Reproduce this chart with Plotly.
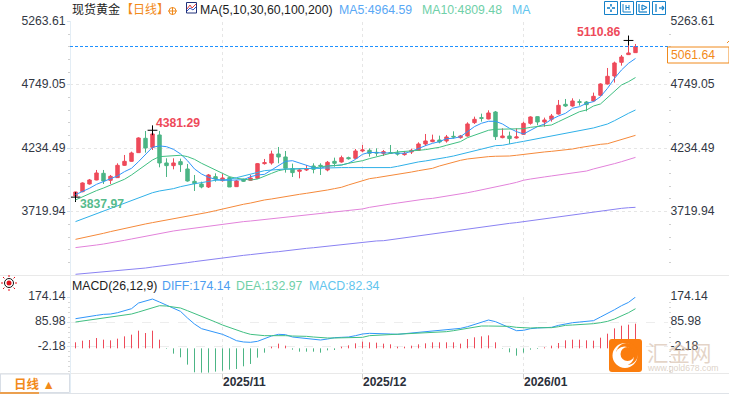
import pandas as pd
import plotly.graph_objects as go

# ---------- data ----------
dates = [d.strftime("%Y-%m-%d") for d in pd.bdate_range("2025-10-03", "2026-01-27") if d.strftime("%m-%d") != "12-25"]

opens = [3847.3,3882.5,3944.8,3977.3,4031.4,3974.6,3996.2,4096.4,4128.9,4199.3,4315.8,4242.6,4342.9,4115.4,4093.7,4126.2,4066.6,3966.4,3944.8,3920.4,4004.4,3971.9,3996.2,3923.1,3982.7,3974.6,3990.8,4110,4115.4,4188.5,4164.1,4069.4,4047.7,4058.5,4091,4096.4,4058.5,4128.9,4123.5,4158.7,4153.3,4212.9,4218.3,4202,4193.9,4199.3,4196.6,4183.1,4204.8,4218.3,4269.7,4288.7,4302.2,4294.1,4332,4321.2,4334.7,4443.1,4483.7,4472.8,4529.7,4321.2,4334.7,4318.5,4348.3,4437.6,4491.8,4448.5,4470.1,4513.5,4592,4578.5,4613.7,4611,4619.1,4665.1,4757.2,4822.2,4933.2,4995.5,5011.7]
highs = [3882.5,3958.3,3985.4,4058.5,4058.5,4017.9,4112.7,4180.4,4207.5,4323.9,4375.4,4381.29,4375.4,4153.3,4153.3,4150.6,4107.3,4017.9,3963.7,4026,4031.4,4026,4004.4,3977.3,3988.1,4017.9,4115.4,4147.9,4215.6,4245.4,4212.9,4110,4072.1,4099.1,4112.7,4112.7,4131.6,4158.7,4175,4166.8,4229.1,4261.6,4234.5,4234.5,4221,4261.6,4221,4212.9,4231.8,4283.3,4351,4345.6,4337.4,4342.9,4372.7,4342.9,4445.8,4491.8,4516.2,4543.3,4537.8,4397,4369.9,4397,4451.2,4494.5,4494.5,4483.7,4513.5,4627.2,4635.3,4640.7,4632.6,4619.1,4686.8,4762.6,4887.2,4938.6,4992.8,5110.86,5082.1]
lows = [3837.97,3877.1,3939.4,3974.6,3944.8,3944.8,3993.5,4091,4126.2,4196.6,4199.3,4221,4080.2,4001.6,4063.9,4042.3,3963.7,3887.9,3909.6,3912.3,3963.7,3963.7,3920.4,3920.4,3961,3969.2,3985.4,4101.8,4101.8,4112.7,4036.9,4001.6,3990.8,4050.4,4031.4,4017.9,4047.7,4085.6,4118.1,4142.5,4147.9,4202,4166.8,4172.2,4172.2,4188.5,4175,4175,4188.5,4212.9,4253.5,4283.3,4275.2,4280.6,4313.1,4313.1,4329.3,4432.2,4451.2,4470.1,4302.2,4315.8,4269.7,4313.1,4342.9,4426.8,4421.4,4410.6,4451.2,4508.1,4570.3,4573,4581.2,4535.1,4613.7,4659.7,4751.8,4768.4,4906.1,4995.5,5009]
closes = [3879.8,3952.9,3977.3,4034.1,3969.2,4007.1,4096.4,4128.9,4196.6,4318.5,4237.2,4351,4115.4,4093.7,4115.4,4101.8,3969.2,3947.5,3920.4,4017.9,3985.4,3993.5,3920.4,3969.2,3966.4,3993.5,4110,4118.1,4188.5,4164.1,4072.1,4036.9,4058.5,4063.9,4063.9,4091,4120.8,4112.7,4158.7,4150.6,4212.9,4221,4193.9,4196.6,4207.5,4193.9,4188.5,4193.9,4218.3,4269.7,4294.1,4302.2,4286,4326.6,4326.6,4334.7,4432.2,4470.1,4478.3,4521.6,4329.3,4334.7,4313.1,4326.6,4437.6,4489.1,4448.5,4464.7,4497.2,4583.9,4578.5,4619.1,4608.2,4589.3,4657,4757.2,4819.5,4927.8,4976.5,5009,5061.64]

ma5 = [3858,3882,3910,3942,3964,3983,4010,4045,4072,4126,4186,4243,4254,4248,4226,4189,4134,4067,4026,3999,3983,3975,3975,3975,3980,4004,4018,4023,4058,4094,4129,4134,4115,4094,4078,4072,4091,4094,4099,4113,4145,4186,4202,4199,4199,4199,4197,4194,4210,4234,4256,4275,4289,4313,4316,4329,4370,4411,4438,4454,4454,4432,4397,4370,4351,4383,4411,4432,4470,4497,4519,4560,4573,4600,4614,4654,4722,4803,4871,4925,4964.59]
ma10 = [3815,3842,3864,3891,3912,3934,3956,3983,4018,4058,4099,4140,4167,4172,4178,4178,4167,4145,4113,4086,4058,4031,4004,3991,3983,3977,3985,4010,4031,4053,4064,4067,4067,4072,4072,4086,4091,4096,4099,4113,4121,4134,4151,4167,4178,4194,4205,4208,4216,4218,4224,4232,4243,4259,4272,4289,4321,4340,4365,4381,4389,4389,4392,4392,4394,4405,4413,4416,4424,4451,4478,4505,4532,4546,4578,4595,4649,4703,4749,4776,4809.48]
ma30 = [3639,3660,3682,3704,3725,3747,3769,3790,3812,3834,3855,3874,3888,3896,3907,3923,3937,3947,3956,3966,3975,3977,3983,3996,4010,4023,4037,4053,4058,4064,4067,4067,4069,4072,4075,4078,4078,4078,4078,4078,4078,4072,4072,4075,4075,4078,4088,4102,4115,4124,4132,4140,4151,4161,4172,4186,4199,4213,4226,4243,4256,4259,4267,4281,4291,4302,4310,4321,4335,4343,4351,4362,4373,4389,4400,4416,4432,4459,4492,4519,4546]
ma60 = [3495,3506,3517,3530,3544,3558,3571,3585,3595,3606,3620,3631,3641,3652,3663,3674,3685,3693,3704,3715,3728,3742,3755,3766,3780,3790,3804,3815,3823,3834,3842,3853,3861,3869,3877,3888,3896,3907,3918,3937,3956,3975,3988,3996,4004,4015,4026,4034,4042,4053,4064,4072,4091,4107,4124,4137,4148,4156,4164,4167,4170,4170,4172,4178,4186,4194,4199,4205,4210,4216,4221,4229,4240,4251,4259,4267,4272,4289,4308,4324,4340]
ma100 = [3428,3433,3441,3449,3457,3465,3476,3487,3498,3509,3522,3536,3547,3555,3563,3571,3579,3587,3595,3604,3612,3620,3625,3633,3639,3644,3650,3658,3663,3671,3677,3682,3690,3696,3701,3706,3712,3720,3725,3731,3736,3742,3755,3766,3774,3782,3790,3799,3807,3815,3823,3828,3836,3847,3855,3866,3874,3885,3896,3910,3923,3934,3945,3958,3975,3985,3996,4002,4010,4018,4023,4031,4040,4050,4067,4080,4094,4110,4126,4142,4161]
ma200 = [3211,3216,3222,3224,3230,3233,3238,3243,3249,3254,3262,3270,3276,3284,3292,3298,3306,3314,3322,3330,3338,3346,3354,3360,3365,3371,3379,3384,3390,3395,3403,3411,3417,3422,3427,3433,3438,3446,3455,3460,3465,3471,3476,3482,3484,3492,3501,3509,3514,3522,3530,3539,3547,3555,3563,3571,3579,3587,3598,3606,3614,3620,3625,3631,3639,3647,3655,3660,3669,3677,3685,3690,3698,3706,3715,3723,3731,3739,3747,3752,3755]

diff = [97.7,102.4,106,109.5,113,114.2,118.9,124.8,133,153,161.2,167.1,156.5,145.9,135.4,123.6,100.1,78.9,62.5,56.6,50.7,42.5,31.9,20.1,15.5,14.3,17.8,27.2,36.6,42.5,41.3,33.1,30.7,28.4,24.9,22.5,26,30.7,31.9,33.1,37.8,43.7,46,46,44.8,43.7,42.5,44.8,49.5,50.7,53.1,54.2,56.6,60.1,61.3,63.6,69.5,77.8,86,93,87.2,76.6,64.8,55.4,56.6,62.5,64.8,66,67.2,74.2,80.1,83.6,86,88.3,90.7,103.6,115.4,129.5,143.6,155.3,174.14]
dea = [86,89.5,93,96.6,98.9,101.3,104.8,109.5,114.2,121.2,129.5,137.7,143.6,142.4,138.9,135.4,125.9,116.5,106,96.6,86,75.4,66,57.8,49.5,42.5,39,37.8,37.8,39,37.8,36.6,36.6,35.4,33.1,30.7,29.6,29.6,29.6,29.6,30.7,31.9,37.8,39,40.1,41.3,42.5,42.5,43.7,44.8,46,47.2,49.5,51.9,55.4,58.9,63.6,68.3,71.9,71.9,71.9,71.9,70.7,67.2,64.8,64.8,66,66,66,69.5,74.2,75.4,76.6,77.8,80.1,83.6,88.3,96.6,107.1,118.9,132.97]
macd = [21.2,27,29.4,36.4,30.6,28.2,34.1,42.3,48.2,62.3,54.1,62.3,30.6,-2,-18.8,-31.7,-57.6,-84.6,-85.8,-85.8,-82.3,-78.8,-75.2,-72.9,-63.5,-55.2,-32.9,-15.3,5.9,16.5,9.4,-4.7,-11.8,-11.8,-11.8,-15.3,-7.1,-5.9,5.9,10.6,17.6,23.5,21.2,20,16.5,14.1,5.9,5.9,9.4,14.1,17.6,21.2,21.2,21.2,21.2,16.5,32.9,38.8,42.3,45.8,21.2,-1.5,-14.1,-25.9,-15.3,-4.7,-2.4,3.5,9.4,18.8,28.2,30.6,30.6,28.2,27,37.6,51.7,70.5,79.9,83.5,87]

price_ticks = [3719.94, 4234.49, 4749.05, 5263.61]
macd_ticks = [-2.18, 85.98, 174.14]
month_days = ["2025-11-03", "2025-12-01", "2026-01-02"]
month_labels = ["2025/11", "2025/12", "2026/01"]
extreme_days = [dates[0], dates[11], dates[79]]
extreme_vals = [3837.97, 4381.29, 5110.86]

# ---------- style ----------
W, H = 729, 394
RED, GREEN = "#ee4a5a", "#4cb585"
FONT = "Liberation Sans, Noto Sans CJK SC, sans-serif"
TICKC = "#333844"
px = lambda x: x / W
py = lambda y: 1 - y / H

MA_STYLE = [("MA5", ma5, "#3096fa"), ("MA10", ma10, "#40bf82"), ("MA30", ma30, "#2fb0e8"),
            ("MA60", ma60, "#f5893a"), ("MA100", ma100, "#e282da"), ("MA200", ma200, "#8a82f2")]

fig = go.Figure()
fig.add_trace(go.Candlestick(x=dates, open=opens, high=highs, low=lows, close=closes, xaxis="x", yaxis="y",
    increasing=dict(line=dict(color=RED, width=1), fillcolor=RED),
    decreasing=dict(line=dict(color=GREEN, width=1), fillcolor=GREEN),
    whiskerwidth=0, hoverinfo="skip", showlegend=False))
for name, vals, col in MA_STYLE:
    fig.add_trace(go.Scatter(x=dates, y=vals, mode="lines", name=name, line=dict(color=col, width=1),
                             xaxis="x", yaxis="y3", hoverinfo="skip", showlegend=False))
fig.add_trace(go.Scatter(x=extreme_days, y=extreme_vals, mode="markers", xaxis="x", yaxis="y",
    marker=dict(symbol="cross-thin", size=7, line=dict(color="#000", width=1)), hoverinfo="skip", showlegend=False))

BAR_BASE = -6.9
for col, keep in ((RED, lambda v: v > 0), (GREEN, lambda v: v <= 0)):
    xs, ys = [], []
    for d, v in zip(dates, macd):
        if keep(v):
            xs += [d, d, None]
            ys += [BAR_BASE, BAR_BASE + v, None]
    fig.add_trace(go.Scatter(x=xs, y=ys, mode="lines", line=dict(color=col, width=1), xaxis="x2", yaxis="y2",
                             connectgaps=False, hoverinfo="skip", showlegend=False))
fig.add_trace(go.Scatter(x=dates, y=diff, mode="lines", line=dict(color="#3096fa", width=1), xaxis="x2", yaxis="y4", hoverinfo="skip", showlegend=False))
fig.add_trace(go.Scatter(x=dates, y=dea, mode="lines", line=dict(color="#40bf82", width=1), xaxis="x2", yaxis="y4", hoverinfo="skip", showlegend=False))

X_RANGE = [-0.786, 84.643]
DOM_X = [px(70), px(668)]
P_RANGE = [3205.4, 5263.9]
M_RANGE = [-94, 174.3]
DOM_P = [py(275), py(21.6)]
DOM_M = [py(373), py(297)]

def yax(dom, rng, ticks, side, overlay=None):
    d = dict(domain=dom, range=rng, tickmode="array", tickvals=ticks, ticktext=[f"{t:.2f}" for t in ticks],
             side=side, anchor="free", position=DOM_X[0] if side == "left" else DOM_X[1],
             showline=False, zeroline=False, ticks="outside", ticklen=3, tickcolor="#d5e3ef",
             ticklabelstandoff=-1 if side == "left" else -3, ticklabelshift=-1,
             tickfont=dict(family=FONT, size=12.2, color=TICKC), fixedrange=True, automargin=False)
    if overlay:
        d["overlaying"] = overlay
        d["showgrid"] = False
    return d

xticks = dict(tickmode="array", tickvals=month_days, ticktext=["", "", ""], type="category",
              categoryorder="array", categoryarray=dates, range=X_RANGE, domain=DOM_X,
              showgrid=True, gridcolor="#e6e6e6", griddash="dot", gridwidth=1, zeroline=False, showline=False, fixedrange=True)

layout_y = yax(DOM_P, P_RANGE, price_ticks, "left")
layout_y.update(showgrid=True, gridcolor="#e6e6e6", griddash="dot",
    minor=dict(tickmode="linear", tick0=3719.94, dtick=102.91, ticks="outside", ticklen=2, tickcolor="#cfcfcf", showgrid=False))
layout_y3 = yax(DOM_P, P_RANGE, price_ticks, "right", overlay="y")
layout_y3.update(ticklen=2, tickcolor="#ffffff",
    minor=dict(tickmode="linear", tick0=3719.94, dtick=102.91, ticks="outside", ticklen=2, tickcolor="#cfcfcf", showgrid=False))
layout_y2 = yax(DOM_M, M_RANGE, macd_ticks, "left")
layout_y2.update(showgrid=True, gridcolor="#ededed", griddash="dash",
    minor=dict(tickmode="linear", tick0=-2.18, dtick=17.63, ticks="outside", ticklen=2, tickcolor="#d8d8d8", showgrid=False))
layout_y4 = yax(DOM_M, M_RANGE, macd_ticks, "right", overlay="y2")
layout_y4.update(ticklen=2, tickcolor="#ffffff",
    minor=dict(tickmode="linear", tick0=-2.18, dtick=17.63, ticks="outside", ticklen=2, tickcolor="#d8d8d8", showgrid=False))

# ---------- furniture ----------
BLUE = "#1581c9"
shapes = []
def hline(y, x0=0, x1=W, color="#e9e9e9", width=1, dash="solid"):
    shapes.append(dict(type="line", xref="paper", yref="paper", x0=px(x0), x1=px(x1), y0=py(y), y1=py(y), line=dict(color=color, width=width, dash=dash)))
def seg(x0, y0, x1, y1, color, width=1):
    shapes.append(dict(type="line", xref="paper", yref="paper", x0=px(x0), x1=px(x1), y0=py(y0), y1=py(y1), line=dict(color=color, width=width)))
def rect(x0, y0, x1, y1, line=None, fill=None, width=1):
    shapes.append(dict(type="rect", xref="paper", yref="paper", x0=px(x0), x1=px(x1), y0=py(y0), y1=py(y1),
                       line=dict(color=line or "rgba(0,0,0,0)", width=width if line else 0), fillcolor=fill or "rgba(0,0,0,0)"))
def circ(cx, cy, r, line=None, fill=None, width=1):
    shapes.append(dict(type="circle", xref="paper", yref="paper", x0=px(cx - r), x1=px(cx + r), y0=py(cy - r), y1=py(cy + r),
                       line=dict(color=line or "rgba(0,0,0,0)", width=width if line else 0), fillcolor=fill or "rgba(0,0,0,0)"))

hline(275.5); hline(373.5); hline(393.5, color="#dfe3e8")
seg(70.5, 21, 70.5, 393, "#e3edf5")
# last-price dashed line
shapes.append(dict(type="line", xref="paper", yref="y", x0=px(70), x1=px(668), y0=closes[-1], y1=closes[-1], line=dict(color="#1e90ff", width=1, dash="3px,2px")))
rect(667.5, 47, 729, 63, line="#f08a1d", fill="#ffffff")
seg(727, 43, 729, 41, "#f08a1d")
# date-row button
rect(0.5, 374, 69.5, 392.5, line="#d8dee6")
hline(393, 0, 39, color="#f08a1d", width=1.5)
# top-right toolbar
for x0 in (604.5, 620.5, 636.5, 652.5):
    rect(x0, 1.5, x0 + 13, 14.5, line=BLUE)
for a in [(607, 8, 610, 8), (612, 8, 615, 8), (611, 4, 611, 6.5), (611, 9.5, 611, 12)]:
    seg(*a, BLUE, 1.6)
for a in [(623, 4, 623, 12), (623, 12, 631, 12), (626, 5, 626, 10), (629, 5, 629, 10), (626, 7.5, 629, 7.5)]:
    seg(*a, BLUE, 1)
for a in [(639, 4, 639, 12), (639, 12, 647, 12), (642, 5, 642, 10), (642, 5, 647, 7.5), (642, 10, 647, 7.5)]:
    seg(*a, BLUE, 1.2)
for a in [(656, 4, 656, 12), (659, 8, 663, 8), (662, 6, 664, 8), (662, 10, 664, 8)]:
    seg(*a, BLUE, 1.3)
# crosshair icon and MA icon in the title line
circ(172.5, 11, 3.5, line="#f08a1d")
seg(168, 11, 177, 11, "#f08a1d"); seg(172.5, 7, 172.5, 15, "#f08a1d")
rect(186.5, 2.5, 196.5, 13, line="#22337a", fill="#fdfdff")
seg(187, 9, 190, 5, "#e04040"); seg(190, 5, 192, 8, "#e04040"); seg(192, 8, 196, 4, "#e04040")
seg(187, 11, 190, 8, "#3050c0"); seg(190, 8, 193, 10, "#3050c0"); seg(193, 10, 196, 7, "#3050c0")
# status sun
circ(9, 283, 2.5, fill="#e0101a")
circ(9, 283, 4.5, line="#111111")
for dx0, dy0, dx1, dy1 in [(-8, 0, -6, 0), (6, 0, 8, 0), (0, -8, 0, -6), (0, 6, 0, 8), (-6, -6, -4.6, -4.6), (4.6, 4.6, 6, 6), (-6, 6, -4.6, 4.6), (4.6, -4.6, 6, -6)]:
    seg(9 + dx0, 283 + dy0, 9 + dx1, 283 + dy1, "#e8101a")
# watermark logo
def rpath(x0, y0, x1, y1, r):
    a, b, c, d = px(x0), px(x1), py(y0), py(y1)
    rx, ry = r / W, r / H
    return (f"M{a+rx},{c} L{b-rx},{c} Q{b},{c} {b},{c-ry} L{b},{d+ry} Q{b},{d} {b-rx},{d} "
            f"L{a+rx},{d} Q{a},{d} {a},{d+ry} L{a},{c-ry} Q{a},{c} {a+rx},{c} Z")
shapes.append(dict(type="path", xref="paper", yref="paper", path=rpath(609, 339, 642, 372, 3), fillcolor="#fb7d0d", line=dict(width=0)))
circ(625, 355.5, 12.5, fill="#ffffff")
circ(627, 354, 11, fill="#fb7d0d")
circ(624.5, 356, 9.5, fill="#ffffff")
circ(627.5, 354, 7, fill="#fb7d0d")

# ---------- texts ----------
ann = []
def text(x, y, s, color, size=12.2, anchor="left", bold=False):
    ann.append(dict(xref="paper", yref="paper", x=px(x), y=py(y), text=f"<b>{s}</b>" if bold else s, showarrow=False,
                    xanchor=anchor, yanchor="middle", align=anchor, font=dict(family=FONT, size=size, color=color), borderpad=0, borderwidth=0))
text(72, 10, "现货黄金", "#1c1c1c", 12)
text(121, 10, "【日线】", "#f28a1a", 12)
text(200, 10, "MA(5,10,30,60,100,200)", "#1c1c1c", 12.3)
text(339, 10, "MA5:4964.59", "#5aa8f5", 12.3)
text(422, 10, "MA10:4809.48", "#6fd0a8", 12.3)
text(512, 10, "MA", "#62c5ee", 12.3)
text(72, 286, "MACD(26,12,9)", "#1c1c1c", 12.3)
text(162, 286, "DIFF:174.14", "#4d9df0", 12.3)
text(236, 286, "DEA:132.97", "#6fd0a8", 12.3)
text(309, 286, "MACD:82.34", "#62c5ee", 12.3)
text(671, 55, "5061.64", "#f28a1a", 12.2)
text(577, 32, "5110.86", RED, 12.2, bold=True)
text(156, 123, "4381.29", RED, 12.2, bold=True)
text(80, 204, "3837.97", "#55bb8c", 12.2, bold=True)
text(14, 384, "日线 ▲", "#f28a1a", 12.5, bold=True)
for d, lab in zip(month_days, month_labels):
    ann.append(dict(xref="x2", yref="paper", x=d, y=py(381.5), text=f"<b>{lab}</b>", showarrow=False, xanchor="left", yanchor="middle",
                    xshift=-1.5, font=dict(family=FONT, size=12, color="#2a2f3a")))
text(647, 354, "汇金网", "rgba(205,175,150,0.55)", 21.5)
text(647, 368, "www.gold678.com", "rgba(210,195,180,0.75)", 8.7)

x2 = dict(xticks)
x2.update(anchor="y2", ticks="outside", ticklen=5, tickcolor="#cfcfcf")
x1 = dict(xticks)
x1.update(anchor="y", rangeslider=dict(visible=False), ticks="", showticklabels=False)

fig.update_layout(width=W, height=H, margin=dict(l=0, r=0, t=0, b=0), paper_bgcolor="#fff", plot_bgcolor="#fff",
                  showlegend=False, xaxis=x1, xaxis2=x2, yaxis=layout_y, yaxis2=layout_y2, yaxis3=layout_y3, yaxis4=layout_y4,
                  shapes=shapes, annotations=ann, hovermode=False)
fig.write_html("out.html", config=dict(displayModeBar=False, staticPlot=True),
               post_script="document.body.style.margin='0';document.body.style.overflow='hidden';")
